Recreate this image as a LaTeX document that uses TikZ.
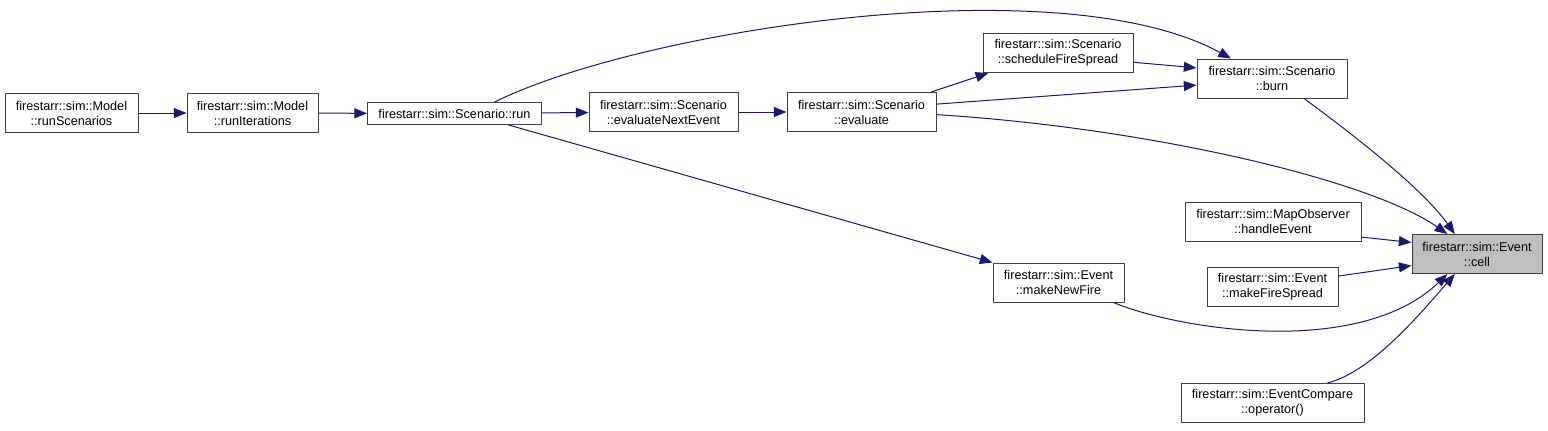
\documentclass[tikz,border=0pt]{standalone}
\usepackage{fontspec}
\setmainfont{Liberation Sans}
\usepackage{xcolor}
\usetikzlibrary{arrows.meta, positioning}
\definecolor{callblue}{HTML}{191970}

\begin{document}
\begin{tikzpicture}[
    x=0.75pt, y=-0.75pt,
    fn/.style={draw=black!75, line width=0.75pt, fill=white, minimum height=29.25pt, inner sep=0pt, align=center, font=\fontsize{9.5}{11.25}\selectfont},
    fnone/.style={fn, minimum height=16.5pt},
    cur/.style={fn, fill=gray!50},
    call/.style={draw=callblue, line width=0.75pt, -{Triangle[length=9.5pt, width=7.5pt]}}]
  \useasboundingbox (0,0) rectangle (1548,430);
  \node[fn, minimum width=99.75pt] (runsc) at (71.5,113) {firestarr::sim::Model\\::runScenarios};
  \node[fn, minimum width=98.25pt] (runit) at (252.5,113) {firestarr::sim::Model\\::runIterations};
  \node[fnone, minimum width=130.5pt] (run) at (454.5,113.5) {firestarr::sim::Scenario::run};
  \node[fn, minimum width=111.75pt] (evnext) at (663.5,112) {firestarr::sim::Scenario\\::evaluateNextEvent};
  \node[fn, minimum width=111.75pt] (eval) at (861.5,112) {firestarr::sim::Scenario\\::evaluate};
  \node[fn, minimum width=112.5pt] (sched) at (1058,53) {firestarr::sim::Scenario\\::scheduleFireSpread};
  \node[fn, minimum width=112.5pt] (burn) at (1272,78.5) {firestarr::sim::Scenario\\::burn};
  \node[fn, minimum width=132pt] (handle) at (1273,221.5) {firestarr::sim::MapObserver\\::handleEvent};
  \node[fn, minimum width=98.25pt] (mkspread) at (1272.5,286.5) {firestarr::sim::Event\\::makeFireSpread};
  \node[fn, minimum width=98.25pt] (mknew) at (1058.5,282.5) {firestarr::sim::Event\\::makeNewFire};
  \node[fn, minimum width=137.25pt] (opcmp) at (1272.5,403) {firestarr::sim::EventCompare\\::operator()};
  \node[cur, minimum width=97.5pt] (cell) at (1477,254) {firestarr::sim::Event\\::cell};
  \draw[call] (runsc) -- (runit);
  \draw[call] (runit) -- (run);
  \draw[call] (run) -- (evnext);
  \draw[call] (evnext) -- (eval);
  \draw[call] (eval.16) -- (sched.196);
  \draw[call] (eval.6) -- (burn.185);
  \draw[call] (sched.-7) -- (burn.172);
  \draw[call] (run.16) .. controls (640,30) and (1060,-35) .. (burn.154);
  \draw[call] (run.-12) -- (mknew.north west);
  \draw[call] (burn.-32) .. controls (1340,125) and (1420,185) .. (cell.138);
  \draw[call] (eval.-2) .. controls (1150,128) and (1370,180) .. (cell.146);
  \draw[call] (handle.-10) -- (cell.170);
  \draw[call] (mkspread.9) -- (cell.190);
  \draw[call] (mknew.-20) .. controls (1180,330) and (1360,358) .. (cell.-146);
  \draw[call] (opcmp.20) .. controls (1370,372) and (1415,320) .. (cell.-138);
\end{tikzpicture}
\end{document}
